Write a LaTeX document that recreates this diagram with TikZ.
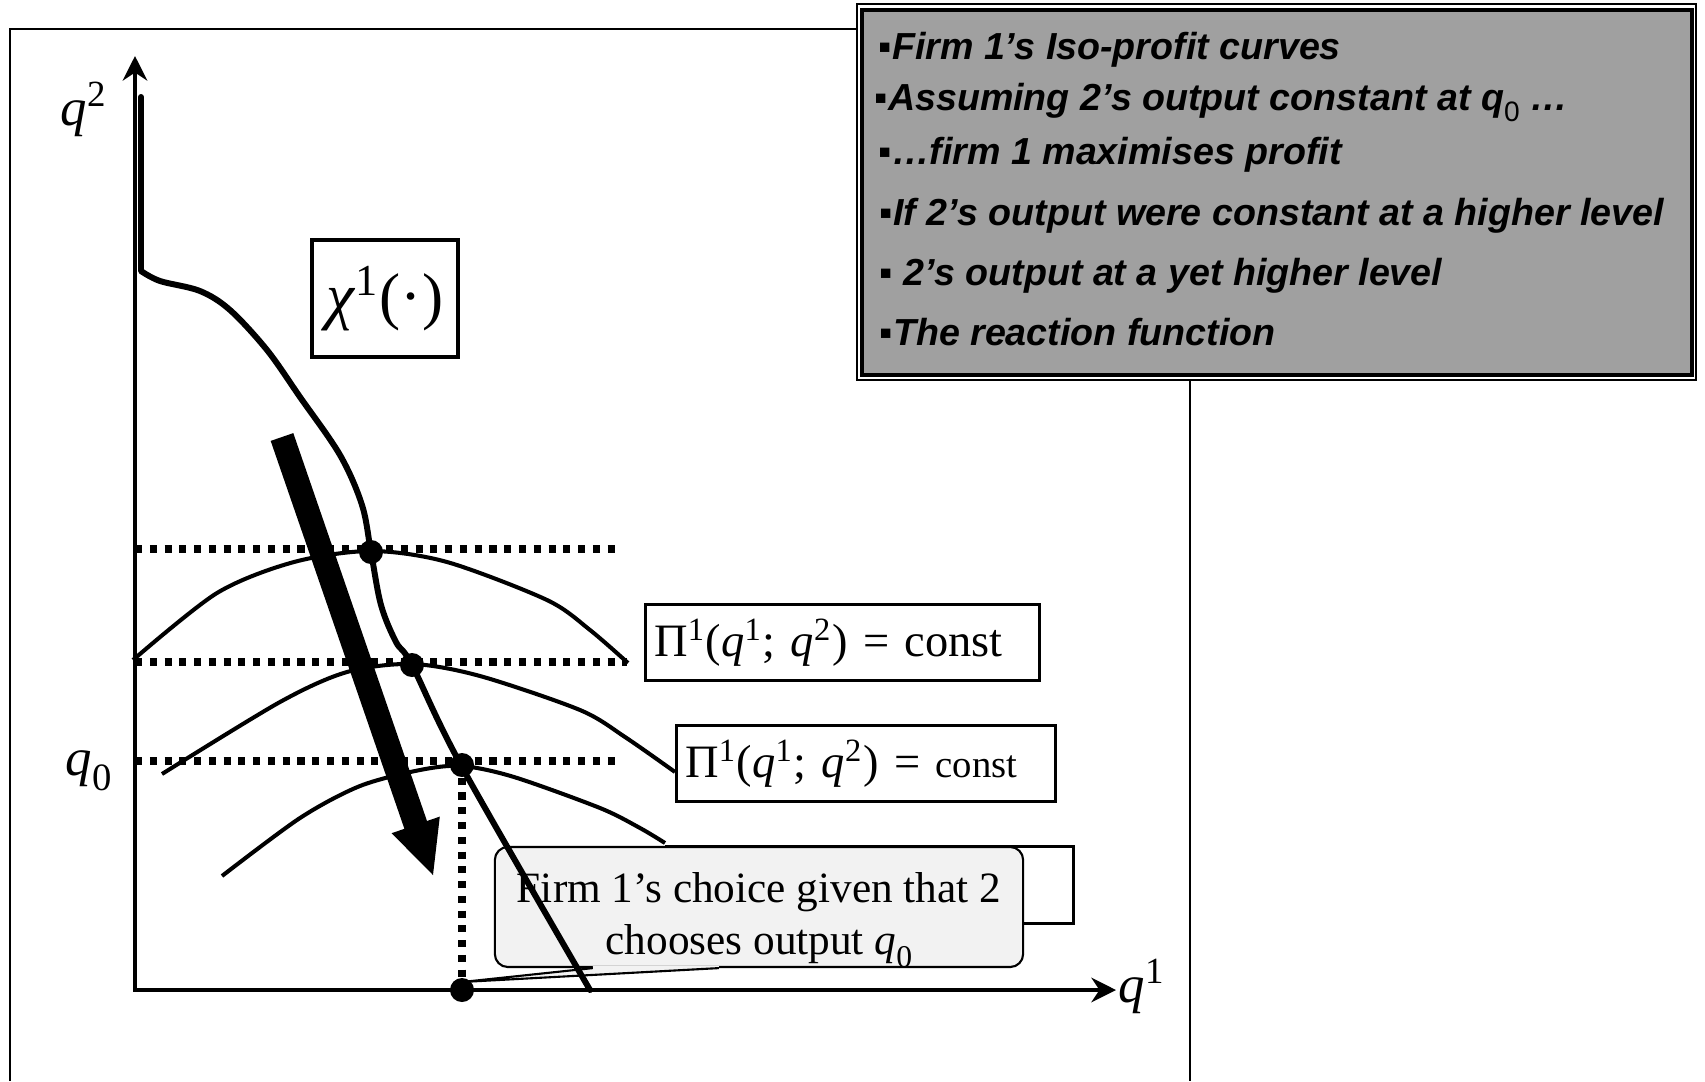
\documentclass[tikz,border=0pt]{standalone}
\usepackage{fontspec}
\setmainfont{Liberation Serif}
\newfontfamily\panelfont{Liberation Sans}
\usetikzlibrary{arrows.meta, positioning, calc}

\definecolor{panelgray}{HTML}{A0A0A0}
\definecolor{callgray}{HTML}{F2F2F2}

\newcommand{\qv}[1]{\textit{q}\textsuperscript{#1}}
\newcommand{\qnull}[1]{\textit{q}\raisebox{-0.3em}{\fontsize{#1}{#1}\selectfont 0}}

\begin{document}
\begin{tikzpicture}[
  x=0.01cm, y=-0.01cm,
  frame/.style={line width=0.6pt},
  axis/.style={line width=1.1pt, {Stealth[length=7pt, width=7pt, inset=2.3pt]}-{Stealth[length=7pt, width=7pt, inset=2.3pt]}},
  guide/.style={line width=2pt, dash pattern=on 2pt off 2.2pt},
  iso/.style={line width=1.15pt},
  reaction/.style={line width=1.7pt, line cap=round, line join=round},
  dot/.style={circle, fill, inner sep=0pt, minimum size=2.4mm},
  axlabel/.style={anchor=base west, inner sep=0pt, font=\fontsize{15}{18}\selectfont},
  lbox/.style={draw, line width=0.9pt, fill=white, inner xsep=2.5pt, inner ysep=0pt,
    minimum height=7.6mm, align=left, anchor=north west, font=\fontsize{13.2}{16}\selectfont},
  callbox/.style={draw, line width=0.6pt, fill=callgray, rounded corners=3.7pt,
    minimum width=52.8mm, minimum height=12mm},
  calltext/.style={align=center, inner sep=0pt, font=\fontsize{12.3}{14.6}\selectfont},
  panel/.style={draw, line width=1pt, fill=panelgray, minimum width=83mm, minimum height=36.5mm},
  note/.style={anchor=base west, inner sep=0pt, font=\panelfont\bfseries\itshape\fontsize{10.7}{13}\selectfont}
]
\useasboundingbox (0,0) rectangle (1705,1081);

% frame of the slide
\draw[frame] (10,1081) -- (10,29) -- (1190,29) -- (1190,1081);

% levels of 2's output
\draw[guide] (135,549) -- (618,549);
\draw[guide] (135,662) -- (627,662);
\draw[guide] (135,761) -- (620,761);

% iso-profit curves
\draw[iso] plot[smooth] coordinates {(133,660) (217,593) (294,562) (371,551) (447,562) (547,600) (590,630) (628,663)};
\draw[iso] plot[smooth] coordinates {(162,774) (280,702) (347,672) (412,664) (480,676) (580,710) (625,737) (675,772)};
\draw[iso] plot[smooth] coordinates {(222,876) (300,818) (360,786) (420,770) (462,766) (514,777) (600,808) (640,828) (665,843)};

\node (chi) [draw, line width=1.1pt, minimum width=14.6mm, minimum height=11.7mm,
  font=\fontsize{18}{20}\selectfont] at (385,298.5) {\textit{χ}\textsuperscript{1}(·)};
\node (pione) [lbox, text width=37.6mm] at (644,603) {Π\textsuperscript{1}(\qv{1}; \qv{2}) = const};
\node (pitwo) [lbox, text width=36.1mm] at (675,724) {Π\textsuperscript{1}(\qv{1}; \qv{2}) = {\fontsize{11}{13}\selectfont const}};
\node (pithree) [lbox, minimum width=40.7mm, minimum height=7.7mm] at (665,845) {};

% callout
\node (choice) [callbox] at (759,907) {};
\node (choicetext) [calltext] at ($(choice)+(0,13)$) {Firm 1’s choice given that 2\\chooses output \qnull{9}};
\coordinate (tailA) at ($(choice.south west)+(99,0)$);
\coordinate (tailB) at ($(choice.south west)+(225,0)$);
\coordinate (tip) at (462,982);
\fill[callgray] ($(tailA)+(0,-2)$) -- ($(tailB)+(0,-2)$) -- ($(tailB)+(0,1.2)$) -- (tip) -- (tailA) -- cycle;
\draw[line width=0.6pt] (tailA) -- (tip) -- (tailB);

% axes
\coordinate (origin) at (135,990);
\draw[axis] (135,56) -- (origin) -- (1116,990);
\node (ylab) [axlabel] at (60,125) {\qv{2}};
\node (xlab) [axlabel] at (1118,1002) {\qv{1}};
\node (qnought) [axlabel] at (65,775) {\qnull{11}};

% reaction function
\draw[reaction] (141,97) -- (141,271) -- plot[smooth, tension=0.55] coordinates {(141,271) (160,281) (200,291) (230,310) (267,350) (300,397) (340,455) (362,505) (371,552) (381,605) (396,642) (412,665) (462,767) (590,990)};

\node (eqa) [dot] at (371,552) {};
\node (eqb) [dot] at (412,665) {};
\node (eqc) [dot] at (462,765) {};
\node (base) [dot] at (462,990) {};
\draw[guide] (eqc) -- (base);

% direction of the shift
\fill (270.7,440.9) -- (293.3,433.1) -- (427,821) -- (439.8,816.6) -- (433,875) -- (391.6,833.2) -- (404.4,828.8) -- cycle;

% notes panel
\draw[line width=0.45pt, fill=white] (857,4) rectangle (1696,380);
\node (notes) [panel] at (1277,192.5) {};
\node (n1) [note] at (878,59) {\textup{▪}Firm 1’s Iso-profit curves};
\node (n2) [note] at (874,110) {\textup{▪}Assuming 2’s output constant at q\raisebox{-0.3em}{\normalfont\panelfont\fontsize{8}{9}\selectfont 0} …};
\node (n3) [note] at (878,164) {\textup{▪}…firm 1 maximises profit};
\node (n4) [note] at (879,225) {\textup{▪}If 2’s output were constant at a higher level};
\node (n5) [note] at (879,285) {\textup{▪} 2’s output at a yet higher level};
\node (n6) [note] at (879,345) {\textup{▪}The reaction function};

\end{tikzpicture}
\end{document}
